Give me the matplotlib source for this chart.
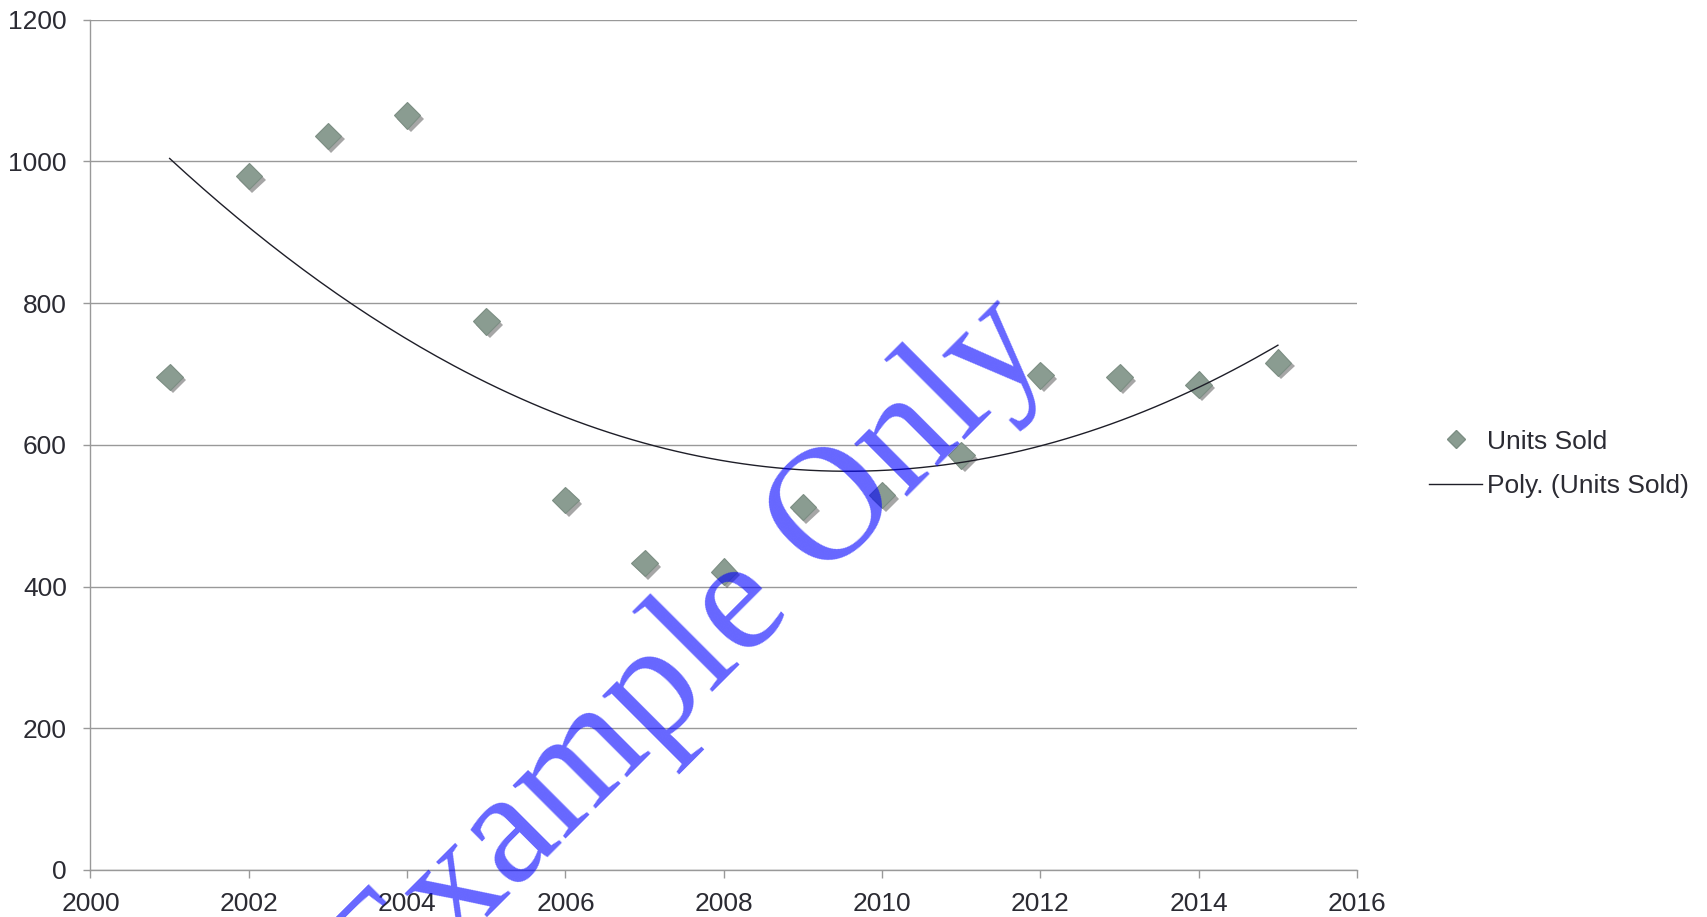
import numpy as np
import matplotlib
matplotlib.use("Agg")
import matplotlib.pyplot as plt
import matplotlib.patheffects as pe
from matplotlib.lines import Line2D

plt.rcParams["font.family"] = ["Liberation Sans", "DejaVu Sans"]

# Units sold per year
years = [2001, 2002, 2003, 2004, 2005, 2006, 2007, 2008,
         2009, 2010, 2011, 2012, 2013, 2014, 2015]
units_sold = [696, 979, 1036, 1065, 774, 522, 433, 421,
              512, 529, 585, 698, 695, 685, 716]

x_ticks = [2000, 2002, 2004, 2006, 2008, 2010, 2012, 2014, 2016]
y_ticks = [0, 200, 400, 600, 800, 1000, 1200]

marker_col = "#8a9c91"
text_col = "#2b2b33"
grid_col = "#999999"

fig = plt.figure(figsize=(17.07, 9.17), dpi=100)
ax = fig.add_axes([0.053, 0.0513, 0.742, 0.9273])

ax.set_xlim(2000, 2016)
ax.set_ylim(0, 1200)
ax.set_xticks(x_ticks)
ax.set_yticks(y_ticks)

ax.yaxis.grid(True, color=grid_col, linewidth=1.0)
ax.set_axisbelow(True)
for side in ["top", "right"]:
    ax.spines[side].set_visible(False)
for side in ["left", "bottom"]:
    ax.spines[side].set_color(grid_col)
    ax.spines[side].set_linewidth(1.0)
ax.tick_params(axis="x", direction="out", length=6, width=1.0, color=grid_col,
               labelsize=19, labelcolor=text_col, pad=10)
ax.tick_params(axis="y", direction="out", length=5, width=1.0, color=grid_col,
               labelsize=19, labelcolor=text_col, pad=12)

# scatter with a soft drop shadow
shadow = [pe.SimplePatchShadow(offset=(2.5, -2.5), shadow_rgbFace="k", alpha=0.35),
          pe.Normal()]
ax.plot(years, units_sold, linestyle="none", marker="D", markersize=13.5,
        markerfacecolor=marker_col, markeredgecolor="#7c8e83",
        markeredgewidth=0.8, path_effects=shadow, zorder=3)

# second order polynomial trendline
coef = np.polyfit(years, units_sold, 2)
xs = np.linspace(years[0], years[-1], 200)
ax.plot(xs, np.polyval(coef, xs), color="#1e1e28", linewidth=1.0, zorder=4)

handles = [
    Line2D([], [], linestyle="none", marker="D", markersize=9,
           markerfacecolor=marker_col, markeredgecolor="#7c8e83"),
    Line2D([], [], color="#1e1e28", linewidth=1.0),
]
fig.legend(handles, ["Units Sold", "Poly. (Units Sold)"],
           loc="center left", bbox_to_anchor=(0.8295, 0.494), frameon=False,
           fontsize=19, labelcolor=text_col, handlelength=2.0,
           handletextpad=0.2, labelspacing=0.78, borderpad=0)

# watermark
fig.text(0.4047, 0.282, "Example Only", fontsize=117, color="blue", alpha=0.6,
         family=["Liberation Serif", "DejaVu Serif"], rotation=45,
         ha="center", va="center", zorder=10)

fig.savefig("out.png", dpi=100)
